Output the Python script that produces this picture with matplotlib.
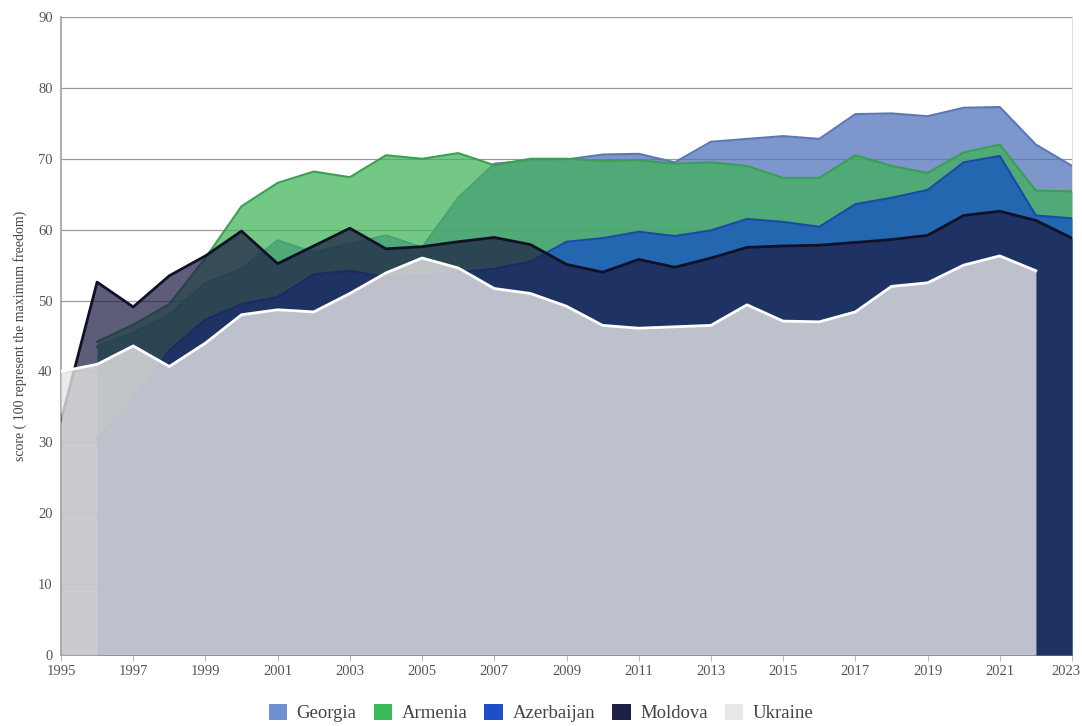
import numpy as np
import matplotlib
matplotlib.use("Agg")
import matplotlib.pyplot as plt
import matplotlib.transforms as mtransforms
from matplotlib.patches import Patch

years = list(range(1995, 2024))
nan = np.nan

georgia = [nan, 43.5, 45.5, 48.0, 52.5, 54.5, 58.5, 56.8, 58.0, 59.2, 57.5, 64.5, 69.3, 69.8,
           69.9, 70.6, 70.7, 69.5, 72.4, 72.8, 73.2, 72.8, 76.3, 76.4, 76.0, 77.2, 77.3, 72.0, 69.0]
armenia = [nan, 44.2, 46.6, 49.5, 56.0, 63.3, 66.6, 68.2, 67.4, 70.5, 70.0, 70.8, 69.1, 70.0,
           70.0, 69.7, 69.8, 69.3, 69.5, 69.0, 67.3, 67.3, 70.5, 69.0, 68.0, 70.9, 72.0, 65.5, 65.4]
azerbaijan = [nan, 30.5, 36.0, 43.0, 47.3, 49.5, 50.5, 53.7, 54.2, 53.3, 53.5, 54.0, 54.5, 55.5,
              58.3, 58.8, 59.7, 59.1, 59.9, 61.5, 61.1, 60.4, 63.6, 64.5, 65.6, 69.5, 70.4, 62.0, 61.6]
moldova = [33.0, 52.6, 49.1, 53.5, 56.3, 59.8, 55.2, 57.7, 60.2, 57.3, 57.6, 58.3, 58.9, 57.9,
           55.1, 54.0, 55.8, 54.7, 56.0, 57.5, 57.7, 57.8, 58.2, 58.6, 59.2, 62.0, 62.6, 61.3, 58.8]
ukraine = [40.0, 41.0, 43.6, 40.7, 44.0, 48.0, 48.7, 48.4, 51.0, 53.9, 56.0, 54.6, 51.7, 51.0,
           49.2, 46.5, 46.1, 46.3, 46.5, 49.4, 47.1, 47.0, 48.4, 52.0, 52.5, 55.0, 56.3, 54.2, nan]

series = [
    ("Georgia", georgia, "#5273bc", "#5a78b4", 0.75, 1.5),
    ("Armenia", armenia, "#3fb356", "#3a9f52", 0.72, 1.5),
    ("Azerbaijan", azerbaijan, "#1a56c0", "#1a4aa8", 0.8, 1.5),
    ("Moldova", moldova, "#1e1e46", "#111126", 0.72, 2.0),
    ("Ukraine", ukraine, "#e6e6e6", "#ffffff", 0.8, 2.0),
]
legend_colors = ["#6f8fd0", "#3cb95a", "#1f4fc8", "#1d1f45", "#e8e8e8"]

plt.rcParams['font.family'] = ['Liberation Serif', 'DejaVu Serif']

fig = plt.figure(figsize=(10.82, 7.26), dpi=100)
ax = fig.add_axes([61 / 1082, 71 / 726, 1011 / 1082, 638 / 726])

x = np.array(years, dtype=float)
for i, (name, vals, fc, lc, a, lw) in enumerate(series):
    y = np.array(vals, dtype=float)
    ax.fill_between(x, 0, y, color=fc, alpha=a, linewidth=0, zorder=2 + i)
    ax.plot(x, y, color=lc, linewidth=lw, zorder=2 + i)

ax.set_xlim(1995, 2023)
ax.set_ylim(0, 90)
ax.set_yticks(range(0, 91, 10))
ax.set_xticks(range(1995, 2024, 2))
ax.grid(axis='y', color='#9a9a9a', linewidth=0.9, zorder=0)
ax.set_axisbelow(True)

for s in ['left', 'bottom']:
    ax.spines[s].set_color('#a0a0a0')
    ax.spines[s].set_linewidth(1.2)
ax.spines['right'].set_color('#dddddd')
ax.spines['top'].set_visible(False)
ax.tick_params(axis='y', length=0, labelsize=10.5, labelcolor='#555555', pad=6)
ax.tick_params(axis='x', length=4, color='#bbbbbb', labelsize=10.5, labelcolor='#555555', pad=3)

# keep the last year label inside the figure
last = ax.get_xticklabels()[-1]
last.set_horizontalalignment('right')
last.set_transform(last.get_transform() + mtransforms.ScaledTranslation(8 / 100, 0, fig.dpi_scale_trans))

ax.set_ylabel("score ( 100 represent the maximum freedom)", fontsize=10, color='#444444', labelpad=8)

handles = [Patch(facecolor=c, edgecolor='none') for c in legend_colors]
fig.legend(handles, [s[0] for s in series], loc='center', bbox_to_anchor=(0.5, 0.018),
           ncol=5, frameon=False, fontsize=13.5, handlelength=1.0, handleheight=1.0,
           handletextpad=0.5, columnspacing=0.9, labelcolor='#444444')

fig.savefig("out.png", dpi=100)
